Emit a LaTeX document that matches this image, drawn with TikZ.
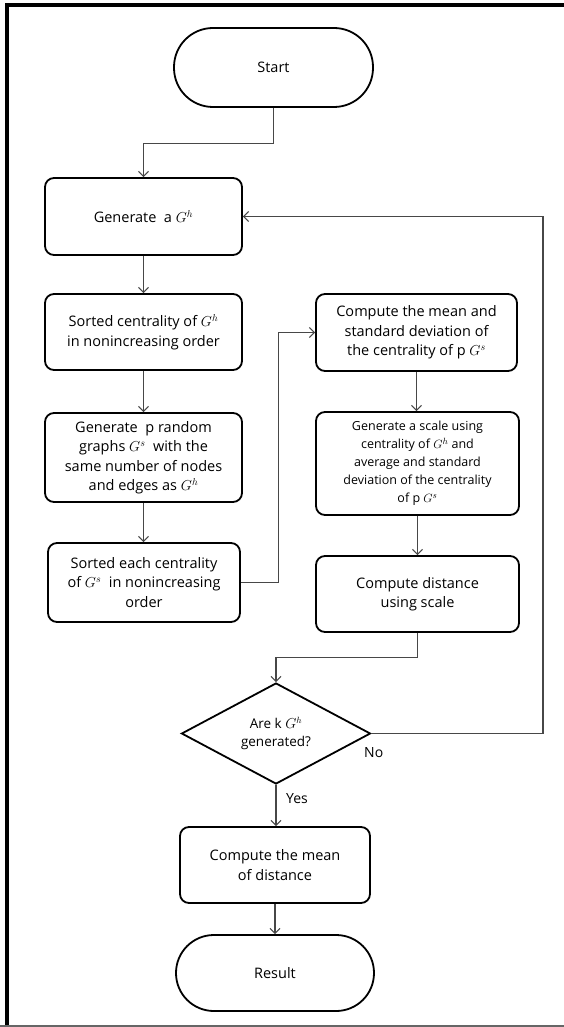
\documentclass[tikz,border=0pt]{standalone}
\usepackage{fontspec}
\setmainfont{Open Sans}
\usetikzlibrary{shapes.geometric,arrows.meta}
\begin{document}
\begin{tikzpicture}[x=1pt,y=-1pt,
  box/.style={draw=black, line width=1.8pt, rounded corners=9pt, align=center, inner sep=0pt, font=\fontsize{14.5}{19.5}\selectfont},
  conn/.style={draw=black!72, line width=1.1pt, -{Straight Barb[length=5pt,width=10pt,line width=1.1pt]}},
  lbl/.style={font=\fontsize{14}{16}\selectfont, inner sep=0pt, anchor=west},
  frame/.style={line width=4pt, draw=black}]
\useasboundingbox (0,0) rectangle (564,1027);
% frame
\draw[frame] (7,1026) -- (7,5) -- (566,5);
\draw[draw=black!60, line width=1.5pt] (0,1026) -- (564,1026);
% nodes
\node[box, minimum width=199pt, minimum height=79pt, rounded corners=39pt] (start) at (273.5,67.5) {Start};
\node[box, minimum width=197pt, minimum height=77pt] (gen) at (143.5,216.5) {Generate\ \ a $G^{h}$};
\node[box, minimum width=197pt, minimum height=76pt] (sortc) at (143.5,332) {Sorted centrality of $G^{h}$\\in nonincreasing order};
\node[box, minimum width=197pt, minimum height=89pt] (genp) at (143.5,457.5) {Generate\ \ p random\\graphs $G^{s}$\ \ with the\\same number of nodes\\and edges as $G^{h}$};
\node[box, minimum width=192pt, minimum height=79pt] (sorte) at (144,582.5) {Sorted each centrality\\of $G^{s}$\ \ in nonincreasing\\order};
\node[box, minimum width=201pt, minimum height=77pt] (mean) at (416.5,332.5) {Compute the mean and\\standard deviation of\\the centrality of p $G^{s}$};
\node[box, minimum width=203pt, minimum height=103pt, font=\fontsize{12.5}{18}\selectfont] (scale) at (417.5,463.5) {Generate a scale using\\centrality of $G^{h}$ and\\average and standard\\deviation of the centrality\\of p $G^{s}$};
\node[box, minimum width=203pt, minimum height=76pt] (dist) at (417.5,594) {Compute distance\\using scale};
\node[draw=black, diamond, line width=1.8pt, minimum width=189pt, minimum height=101pt, shape aspect=1.87, inner sep=0pt, align=center, font=\fontsize{13.5}{18}\selectfont] (dec) at (276,733.5) {Are k $G^{h}$\\generated?};
\node[box, minimum width=190pt, minimum height=76pt] (meand) at (275,865) {Compute the mean\\of distance};
\node[box, minimum width=198pt, minimum height=76pt, rounded corners=37.9pt] (res) at (275,973) {Result};
\coordinate (ret) at (543,733.5);
% labels
\node[lbl] (yes) at (286,799) {Yes};
\node[lbl] (no) at (364,753) {No};
% connectors
\draw[conn] (start.south) -- ++(0,36) -| (gen.north);
\draw[conn] (gen.south) -- (gen.south |- sortc.north);
\draw[conn] (sortc.south) -- (sortc.south |- genp.north);
\draw[conn] (genp.south) -- (genp.south |- sorte.north);
\draw[conn] (sorte.east) -- ++(38,0) |- (mean.west);
\draw[conn] (mean.south) -- (mean.south |- scale.north);
\draw[conn] (scale.south) -- (scale.south |- dist.north);
\draw[conn] (dist.south) -- ++(0,25) -| (dec.north);
\draw[conn] (dec.east) -- (ret) |- (gen.east);
\draw[conn] (dec.south) -- (dec.south |- meand.north);
\draw[conn] (meand.south) -- (meand.south |- res.north);
\end{tikzpicture}
\end{document}
